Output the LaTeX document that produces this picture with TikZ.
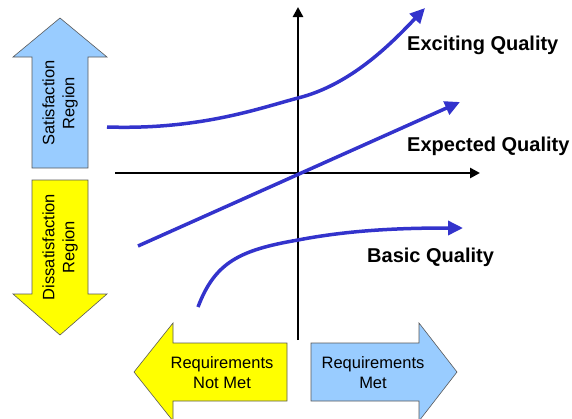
\documentclass[tikz,border=0pt]{standalone}
\usepackage{fontspec}
\setmainfont{Liberation Sans}
\usetikzlibrary{arrows.meta}

\definecolor{skyblue}{HTML}{99CCFF}
\definecolor{lemon}{HTML}{FFFF00}
\definecolor{curveblue}{HTML}{3333CC}

\begin{document}
\begin{tikzpicture}[x=1pt,y=-1pt]
	\useasboundingbox (0,0) rectangle (572,418);

	% block arrows
	\begin{scope}[every path/.style={draw=black!65,line width=0.6pt}]
		\path[fill=skyblue] (60,18) -- (107,57) -- (88,57) -- (88,168) -- (32,168) -- (32,57) -- (13,57) -- cycle;
		\path[fill=lemon] (60,335) -- (107,294) -- (88,294) -- (88,180) -- (32,180) -- (32,294) -- (13,294) -- cycle;
		\path[fill=lemon] (134,372) -- (173,323) -- (173,343) -- (287,343) -- (287,401) -- (173,401) -- (173,421) -- cycle;
		\path[fill=skyblue] (457,372) -- (419,323) -- (419,343) -- (311,343) -- (311,401) -- (419,401) -- (419,421) -- cycle;
	\end{scope}

	\begin{scope}[every node/.style={font=\fontsize{16.5}{20}\selectfont,align=center}]
		\node[rotate=90] (sat) at (60,103) {Satisfaction\\Region};
		\node[rotate=90] (dis) at (60,247) {Dissatisfaction\\Region};
		\node (notmet) at (222,373) {Requirements\\Not Met};
		\node (met) at (373,373) {Requirements\\Met};
	\end{scope}

	\begin{scope}[every node/.style={font=\fontsize{20}{24}\selectfont\bfseries,anchor=base west,inner sep=0pt}]
		\node (exciting) at (407,50) {Exciting Quality};
		\node (expected) at (407,151) {Expected Quality};
		\node (basic) at (367,262) {Basic Quality};
	\end{scope}

	% axes
	\coordinate (ybot) at (298,340);
	\coordinate (ytop) at (298,7);
	\coordinate (xleft) at (115,173);
	\coordinate (xright) at (480,173);
	\draw[line width=2.6pt,-{Triangle[length=10pt,width=10pt]}] (ybot) -- (ytop);
	\draw[line width=2.6pt,-{Triangle[length=10pt,width=10pt]}] (xleft) -- (xright);

	% quality curves
	\begin{scope}[every path/.style={draw=curveblue,line width=3.5pt,-{Triangle[length=15pt,width=14pt]}}]
		\coordinate (exc0) at (107,127);
		\coordinate (exc1) at (298,98);
		\coordinate (exc2) at (425,8);
		\coordinate (exp0) at (138,246);
		\coordinate (exp1) at (460,102);
		\coordinate (bas0) at (198,307);
		\coordinate (bas1) at (298,240);
		\coordinate (bas2) at (463,228);
		\path (exc0) .. controls (200,130) and (260,108) .. (exc1) .. controls (350,85) and (390,45) .. (exc2);
		\path (exp0) -- (exp1);
		\path (bas0) .. controls (215,262) and (240,250) .. (bas1) .. controls (350,230) and (400,228) .. (bas2);
	\end{scope}
\end{tikzpicture}
\end{document}
